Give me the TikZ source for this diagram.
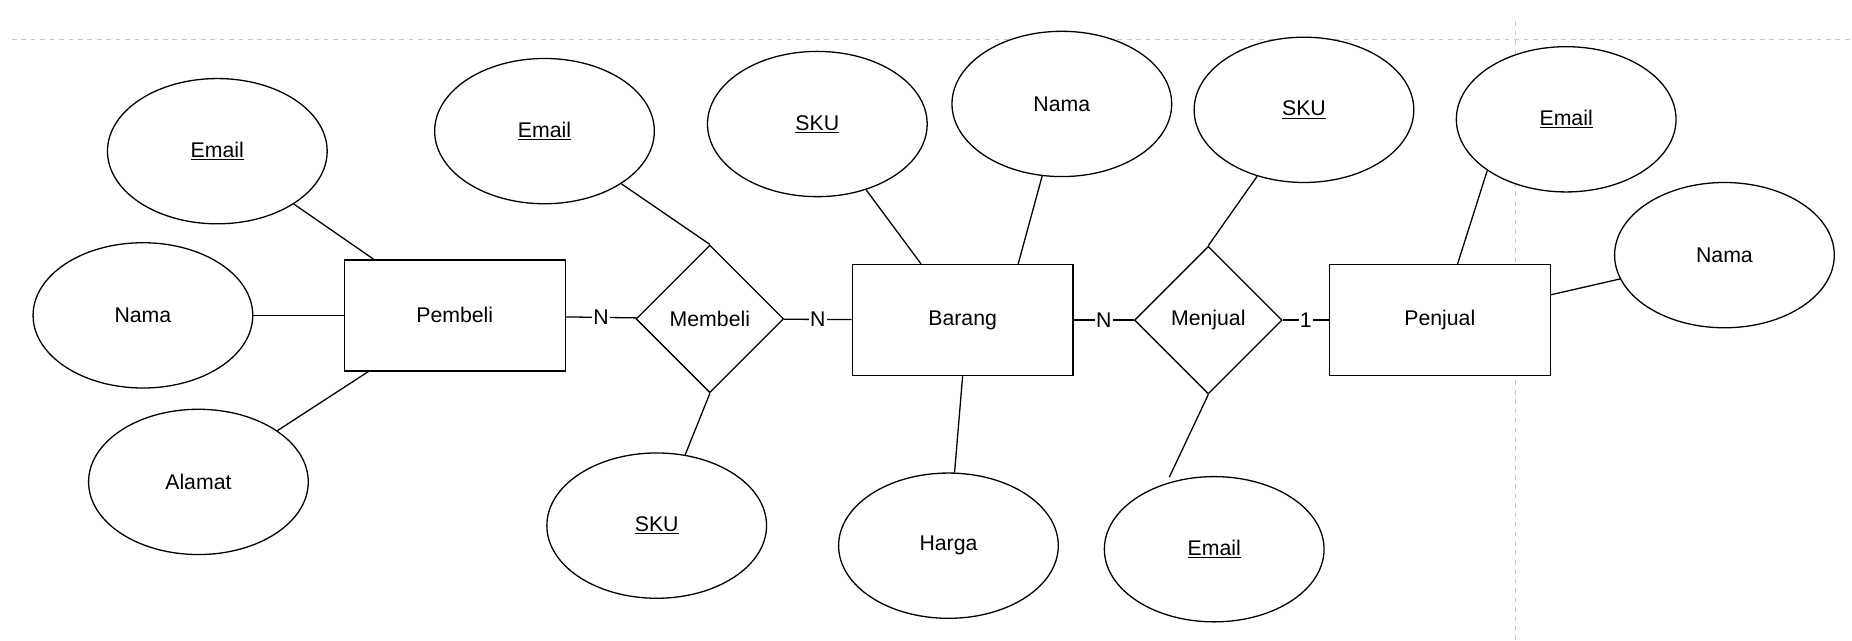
\documentclass[tikz,border=0pt]{standalone}
\usepackage{fontspec}
\setmainfont{Liberation Sans}
\usetikzlibrary{shapes.geometric,calc}
\begin{document}
\begin{tikzpicture}[x=1pt,y=-1pt,
  txt/.style={font=\fontsize{18}{20}\selectfont},
  attr/.style={ellipse,draw,fill=white,line width=1.1pt,minimum width=186pt,minimum height=123pt,inner sep=0pt,txt},
  ent/.style={rectangle,draw,fill=white,line width=1.1pt,minimum width=187pt,minimum height=94pt,inner sep=0pt,txt},
  rel/.style={diamond,draw,fill=white,aspect=1,line width=1.1pt,minimum width=125pt,minimum height=125pt,inner sep=0pt,txt},
  link/.style={line width=1.1pt},
  card/.style={fill=white,inner sep=1pt,txt},
  pageline/.style={draw=black!22,dash pattern=on 4pt off 4pt,line width=0.7pt}]
\useasboundingbox (0,0) rectangle (1568,542);
% page boundaries
\draw[pageline] (10,33) -- (1568,33);
\draw[pageline] (1283,18) -- (1283,542);
% entities
\node[ent] (pb) at (385,267) {Pembeli};
\node[ent] (br) at (815,271) {Barang};
\node[ent] (pj) at (1219,271) {Penjual};
% relations
\node[rel] (mb) at (601,270) {Membeli};
\node[rel] (mj) at (1023,271) {Menjual};
% attributes
\node[attr] (e1) at (184,128) {\underline{Email}};
\node[attr] (n1) at (121,267) {Nama};
\node[attr] (a1) at (168,408) {Alamat};
\node[attr] (e2) at (461,111) {\underline{Email}};
\node[attr] (s1) at (556,445) {\underline{SKU}};
\node[attr] (s2) at (692,105) {\underline{SKU}};
\node[attr] (n2) at (899,88) {Nama};
\node[attr] (h1) at (803,462) {Harga};
\node[attr] (s3) at (1104,93) {\underline{SKU}};
\node[attr] (e3) at (1028,465) {\underline{Email}};
\node[attr] (e4) at (1326,101) {\underline{Email}};
\node[attr] (n3) at (1460,216) {Nama};
\coordinate (me) at (990,404);
% connectors
\draw[link] (e1) -- (pb);
\draw[link] (n1) -- (pb);
\draw[link] (a1) -- (pb);
\draw[link] (pb) -- node[card]{N} (mb);
\draw[link] (mb) -- node[card]{N} (br);
\draw[link] (br) -- node[card]{N} (mj);
\draw[link] (mj) -- node[card]{1} (pj);
\draw[link] (e2) -- (mb.north);
\draw[link] (s1) -- (mb.south);
\draw[link] (s2) -- (br);
\draw[link] (n2) -- ($(br.north west)!0.75!(br.north east)$);
\draw[link] (br.south) -- (h1);
\draw[link] (s3) -- (mj.north);
\draw[link] (mj.south) -- (me);
\draw[link] (e4.213) -- ($(pj.north west)!0.58!(pj.north east)$);
\draw[link] (pj) -- (n3);
\end{tikzpicture}
\end{document}
